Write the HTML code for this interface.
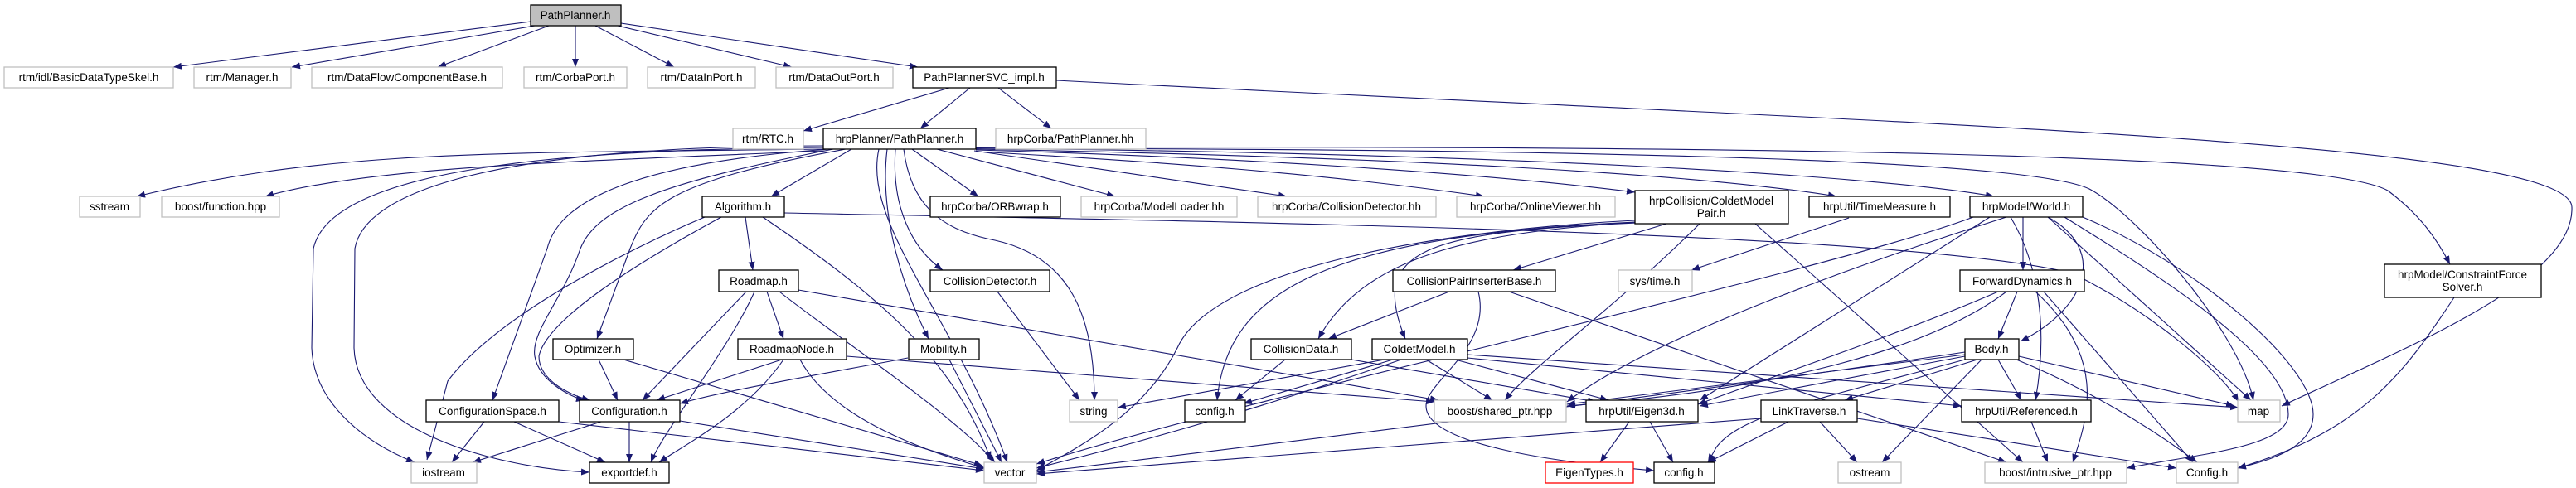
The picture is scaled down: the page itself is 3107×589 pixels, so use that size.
<!DOCTYPE html>
<html><head><meta charset="utf-8"><style>
html,body{margin:0;padding:0;background:#fff;}
svg{display:block;}
text{font-family:"Liberation Sans",sans-serif;font-size:13.5px;fill:#000;text-anchor:middle;}
.n{fill:#fff;stroke:#000;stroke-width:1.3;}
.g{fill:#fff;stroke:#bfbfbf;stroke-width:1.3;}
.e path{fill:none;stroke:#191970;stroke-width:1.1;}
</style></head><body>
<svg width="3107" height="589" viewBox="0 0 3107 589" xmlns="http://www.w3.org/2000/svg">
<defs><marker id="a" markerUnits="userSpaceOnUse" markerWidth="11" markerHeight="8" refX="10" refY="4" orient="auto"><path d="M0,0 L10,4 L0,8 z" fill="#191970"/></marker></defs>
<g class="e" marker-end="url(#a)">
<path d="M640,26 L209,81"/><path d="M645,31 L352,81"/><path d="M662,31 L528,81"/><path d="M694,31 L694,81"/><path d="M718,31 L813,81"/><path d="M745,31 L955,81"/><path d="M749,28 L1107,81"/>
<path d="M1145,106 L969,158"/><path d="M1170,106 L1110,155"/><path d="M1204,106 L1268,155"/>
<path d="M1274,97 C2300,150 3100,170 3102,250 C3105,340 2900,420 2752,490"/>
<path d="M995,180 C600,185 400,180 165,237"/><path d="M995,182 C700,195 450,200 320,237"/>
<path d="M1027,180 L930,237"/><path d="M1100,180 L1180,237"/><path d="M1130,180 L1345,237"/><path d="M1175,182 L1552,237"/>
<path d="M1177,183 C1400,195 1600,210 1790,237"/><path d="M1177,181 C1500,190 1800,210 1972,232"/>
<path d="M1177,180 C1700,190 2050,210 2215,237"/><path d="M1177,179 C1800,185 2250,210 2405,237"/>
<path d="M1177,178 C2100,175 2800,185 2880,230 C2920,260 2940,290 2955,319"/>
<path d="M1177,179 C2000,180 2450,195 2520,228 C2580,260 2700,400 2718,483"/>
<path d="M995,178 C700,180 400,200 378,300 L376,420 C378,480 430,530 500,558"/>
<path d="M995,176 C600,176 440,230 428,300 L427,420 C430,520 600,565 711,570"/>
<path d="M1000,180 C720,200 670,260 660,300 L594,483"/>
<path d="M1005,180 C800,220 720,250 700,300 C680,360 640,400 645,430 C650,460 690,480 705,483"/>
<path d="M1020,180 C800,220 780,250 760,300 L720,409"/>
<path d="M850,262 C760,300 600,380 540,460 L515,555"/>
<path d="M870,262 C800,300 660,380 650,430 C650,460 690,478 712,483"/>
<path d="M899,262 L908,326"/><path d="M920,262 C1050,350 1150,430 1195,555"/>
<path d="M946,257 C1500,268 2300,280 2500,330 C2600,380 2680,450 2700,485"/>
<path d="M1080,180 C1075,250 1100,300 1137,326"/><path d="M1070,180 C1060,260 1090,350 1120,409"/>
<path d="M1090,180 C1100,260 1150,280 1200,290 C1290,310 1320,380 1320,483"/>
<path d="M1060,180 C1040,270 1150,380 1215,558"/>
<path d="M1203,352 L1302,483"/><path d="M1145,434 L1208,558"/><path d="M1095,432 C1000,450 880,470 820,487"/>
<path d="M722,434 L745,483"/><path d="M752,434 L1185,562"/>
<path d="M943,434 L792,483"/><path d="M945,434 C900,500 820,540 795,558"/><path d="M965,434 C1000,500 1100,540 1188,565"/><path d="M1021,430 L1730,485"/>
<path d="M925,352 L945,409"/><path d="M900,352 L775,483"/><path d="M910,352 C880,420 800,520 785,558"/><path d="M940,352 C1000,400 1150,500 1200,558"/><path d="M963,350 L1735,483"/>
<path d="M584,509 L545,558"/><path d="M620,509 L730,558"/><path d="M674,509 L1187,568"/>
<path d="M725,509 L570,558"/><path d="M759,509 L759,558"/><path d="M820,508 L1187,566"/>
<path d="M2010,270 L1825,326"/><path d="M1975,268 C1800,280 1650,300 1590,409"/><path d="M1975,269 C1720,280 1650,300 1695,409"/>
<path d="M1972,268 C1600,285 1480,350 1468,483"/><path d="M1972,266 C1700,280 1460,330 1420,420 C1380,500 1300,540 1250,568"/>
<path d="M2117,270 L2440,558"/><path d="M2050,270 C1950,370 1850,440 1815,483"/>
<path d="M1748,352 L1602,409"/><path d="M1783,352 C1800,420 1720,460 1720,490 C1720,540 1900,560 1995,568"/><path d="M1820,352 L2420,558"/>
<path d="M1550,434 L1490,483"/><path d="M1630,434 L1925,485"/>
<path d="M1670,434 L1348,492"/><path d="M1680,434 L1500,487"/><path d="M1690,434 C1500,500 1350,540 1250,565"/><path d="M1755,434 L1940,483"/><path d="M1770,428 L2700,492"/><path d="M1770,432 L2366,490"/><path d="M1720,434 L1800,483"/>
<path d="M2230,263 L2040,326"/>
<path d="M2440,262 L2440,326"/><path d="M2470,262 C2540,300 2520,370 2437,412"/><path d="M2400,262 L2050,483"/>
<path d="M2420,262 C2300,300 2000,400 1890,485"/><path d="M2380,262 C2200,330 1500,480 1250,560"/><path d="M2470,262 L2715,483"/>
<path d="M2490,262 C2600,330 2760,430 2760,500 C2760,540 2650,548 2565,565"/>
<path d="M2512,262 C2650,320 2790,440 2790,500 C2790,540 2740,555 2699,565"/>
<path d="M2425,262 C2460,320 2470,400 2455,483"/>
<path d="M2433,352 L2410,409"/><path d="M2410,352 C2300,400 2150,450 2048,488"/><path d="M2420,352 C2330,420 2150,470 1890,490"/>
<path d="M2455,352 C2540,430 2520,500 2500,558"/><path d="M2465,352 L2645,558"/>
<path d="M2410,434 L2438,483"/><path d="M2435,430 L2695,490"/><path d="M2385,434 L2225,483"/><path d="M2390,434 L2270,558"/>
<path d="M2432,434 C2520,470 2600,520 2650,558"/><path d="M2370,430 L2050,490"/><path d="M2370,428 L1890,488"/>
<path d="M2370,425 C2000,480 1500,540 1250,570"/><path d="M2370,434 C2200,480 2100,500 2070,540 L2060,558"/>
<path d="M2195,509 L2240,558"/><path d="M2124,505 L1250,572"/><path d="M2240,505 L2625,565"/><path d="M2157,509 L2060,558"/>
<path d="M2450,509 L2470,558"/><path d="M1965,509 L1930,558"/><path d="M1990,509 L2018,558"/>
<path d="M2960,359 C2900,450 2850,520 2699,565"/>
</g>
<g>
<rect x="640" y="6" width="109" height="25" fill="#bfbfbf" stroke="#000" stroke-width="1.3"/><text x="694" y="23">PathPlanner.h</text>
<rect class="g" x="5" y="81" width="204" height="25"/><text x="107" y="98">rtm/idl/BasicDataTypeSkel.h</text>
<rect class="g" x="234" y="81" width="117" height="25"/><text x="292" y="98">rtm/Manager.h</text>
<rect class="g" x="376" y="81" width="230" height="25"/><text x="491" y="98">rtm/DataFlowComponentBase.h</text>
<rect class="g" x="632" y="81" width="124" height="25"/><text x="694" y="98">rtm/CorbaPort.h</text>
<rect class="g" x="781" y="81" width="130" height="25"/><text x="846" y="98">rtm/DataInPort.h</text>
<rect class="g" x="936" y="81" width="141" height="25"/><text x="1006" y="98">rtm/DataOutPort.h</text>
<rect class="n" x="1101" y="81" width="173" height="25"/><text x="1187" y="98">PathPlannerSVC_impl.h</text>
<rect class="g" x="884" y="155" width="85" height="25"/><text x="926" y="172">rtm/RTC.h</text>
<rect class="n" x="993" y="155" width="184" height="25"/><text x="1085" y="172">hrpPlanner/PathPlanner.h</text>
<rect class="g" x="1201" y="155" width="181" height="25"/><text x="1291" y="172">hrpCorba/PathPlanner.hh</text>
<rect class="g" x="96" y="237" width="73" height="25"/><text x="132" y="254">sstream</text>
<rect class="g" x="195" y="237" width="142" height="25"/><text x="266" y="254">boost/function.hpp</text>
<rect class="n" x="847" y="237" width="99" height="25"/><text x="896" y="254">Algorithm.h</text>
<rect class="n" x="1122" y="237" width="157" height="25"/><text x="1200" y="254">hrpCorba/ORBwrap.h</text>
<rect class="g" x="1304" y="237" width="188" height="25"/><text x="1398" y="254">hrpCorba/ModelLoader.hh</text>
<rect class="g" x="1517" y="237" width="215" height="25"/><text x="1624" y="254">hrpCorba/CollisionDetector.hh</text>
<rect class="g" x="1757" y="237" width="191" height="25"/><text x="1852" y="254">hrpCorba/OnlineViewer.hh</text>
<rect class="n" x="1972" y="230" width="185" height="40"/><text x="2064" y="247">hrpCollision/ColdetModel</text><text x="2064" y="262">Pair.h</text>
<rect class="n" x="2182" y="237" width="170" height="25"/><text x="2267" y="254">hrpUtil/TimeMeasure.h</text>
<rect class="n" x="2376" y="237" width="136" height="25"/><text x="2444" y="254">hrpModel/World.h</text>
<rect class="n" x="867" y="326" width="96" height="26"/><text x="915" y="344">Roadmap.h</text>
<rect class="n" x="1122" y="326" width="144" height="26"/><text x="1194" y="344">CollisionDetector.h</text>
<rect class="n" x="1680" y="326" width="196" height="26"/><text x="1778" y="344">CollisionPairInserterBase.h</text>
<rect class="g" x="1952" y="326" width="89" height="26"/><text x="1996" y="344">sys/time.h</text>
<rect class="n" x="2364" y="326" width="150" height="26"/><text x="2439" y="344">ForwardDynamics.h</text>
<rect class="n" x="2876" y="319" width="189" height="40"/><text x="2970" y="336">hrpModel/ConstraintForce</text><text x="2970" y="351">Solver.h</text>
<rect class="n" x="667" y="409" width="97" height="25"/><text x="715" y="426">Optimizer.h</text>
<rect class="n" x="890" y="409" width="131" height="25"/><text x="955" y="426">RoadmapNode.h</text>
<rect class="n" x="1096" y="409" width="85" height="25"/><text x="1138" y="426">Mobility.h</text>
<rect class="n" x="1509" y="409" width="121" height="25"/><text x="1569" y="426">CollisionData.h</text>
<rect class="n" x="1655" y="409" width="115" height="25"/><text x="1712" y="426">ColdetModel.h</text>
<rect class="n" x="2370" y="409" width="65" height="25"/><text x="2402" y="426">Body.h</text>
<rect class="n" x="514" y="483" width="160" height="26"/><text x="594" y="501">ConfigurationSpace.h</text>
<rect class="n" x="699" y="483" width="121" height="26"/><text x="759" y="501">Configuration.h</text>
<rect class="g" x="1290" y="483" width="58" height="26"/><text x="1319" y="501">string</text>
<rect class="n" x="1429" y="483" width="73" height="26"/><text x="1465" y="501">config.h</text>
<rect class="g" x="1730" y="483" width="159" height="26"/><text x="1809" y="501">boost/shared_ptr.hpp</text>
<rect class="n" x="1913" y="483" width="135" height="26"/><text x="1980" y="501">hrpUtil/Eigen3d.h</text>
<rect class="n" x="2124" y="483" width="116" height="26"/><text x="2182" y="501">LinkTraverse.h</text>
<rect class="n" x="2366" y="483" width="156" height="26"/><text x="2444" y="501">hrpUtil/Referenced.h</text>
<rect class="g" x="2699" y="483" width="51" height="26"/><text x="2724" y="501">map</text>
<rect class="g" x="496" y="558" width="79" height="25"/><text x="535" y="575">iostream</text>
<rect class="n" x="711" y="558" width="96" height="25"/><text x="759" y="575">exportdef.h</text>
<rect class="g" x="1187" y="558" width="63" height="25"/><text x="1218" y="575">vector</text>
<rect x="1864" y="558" width="106" height="25" fill="#fff" stroke="#ff0000" stroke-width="1.3"/><text x="1917" y="575">EigenTypes.h</text>
<rect class="n" x="1995" y="558" width="73" height="25"/><text x="2031" y="575">config.h</text>
<rect class="g" x="2217" y="558" width="76" height="25"/><text x="2255" y="575">ostream</text>
<rect class="g" x="2394" y="558" width="171" height="25"/><text x="2479" y="575">boost/intrusive_ptr.hpp</text>
<rect class="g" x="2625" y="558" width="74" height="25"/><text x="2662" y="575">Config.h</text>
</g>
</svg>
</body></html>
